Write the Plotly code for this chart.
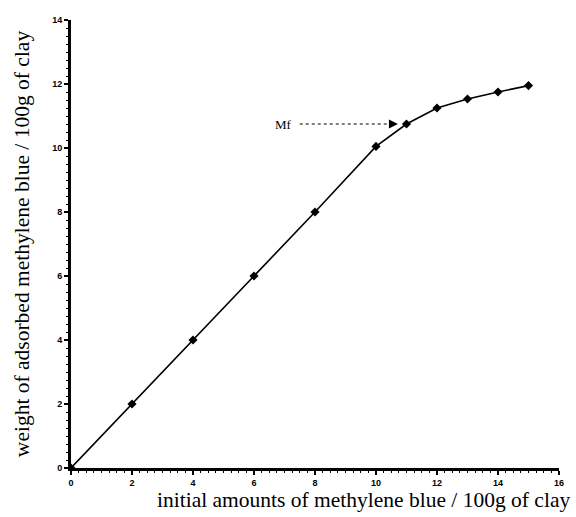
import plotly.graph_objects as go

x_initial = [0, 2, 4, 6, 8, 10, 11, 12, 13, 14, 15]
y_adsorbed = [0, 2, 4, 6, 8, 10.05, 10.75, 11.25, 11.53, 11.75, 11.95]

mf_label = "Mf"
mf_arrow_start = 7.5
mf_arrow_end = 10.72
mf_y = 10.75

fig = go.Figure()
fig.add_trace(go.Scatter(
    x=x_initial, y=y_adsorbed, mode="lines+markers",
    line=dict(color="black", width=1.6),
    marker=dict(symbol="diamond", size=7, color="black"),
    showlegend=False,
))
# dotted arrow line
fig.add_trace(go.Scatter(
    x=[mf_arrow_start, mf_arrow_end - 0.2], y=[mf_y, mf_y], mode="lines",
    line=dict(color="black", width=1.2, dash="dot"), showlegend=False,
))
fig.add_annotation(
    x=mf_arrow_end, y=mf_y, ax=mf_arrow_end - 0.25, ay=mf_y,
    xref="x", yref="y", axref="x", ayref="y",
    text="", showarrow=True, arrowhead=2, arrowsize=1.2, arrowwidth=1.5, arrowcolor="black",
)
fig.add_annotation(
    x=mf_arrow_start - 0.2, y=mf_y, xref="x", yref="y", text=mf_label,
    showarrow=False, xanchor="right", yanchor="middle",
    font=dict(family="Liberation Serif", size=13, color="black"),
)

fig.add_annotation(
    x=1.027, y=-0.072, xref="paper", yref="paper", xanchor="right", yanchor="middle",
    text="initial amounts of methylene blue / 100g of clay", showarrow=False,
    font=dict(family="Liberation Serif", size=21.5, color="black"),
)

tick_font = dict(family="Liberation Sans", size=9, color="black", weight="bold")
fig.update_xaxes(
    range=[0, 16], tickvals=list(range(0, 17, 2)), showline=True, linecolor="black", linewidth=3,
    ticks="outside", ticklen=4, tickwidth=2, tickcolor="black",
    minor=dict(dtick=0.25, ticks="outside", ticklen=2, tickcolor="black", tickwidth=1),
    showgrid=False, zeroline=False, tickfont=tick_font,
)
fig.update_yaxes(
    range=[0, 14], tickvals=list(range(0, 15, 2)), showline=True, linecolor="black", linewidth=3,
    ticks="outside", ticklen=4, tickwidth=2, tickcolor="black",
    minor=dict(dtick=0.25, ticks="outside", ticklen=2, tickcolor="black", tickwidth=1),
    showgrid=False, zeroline=False, tickfont=tick_font,
    title=dict(text="weight of adsorbed methylene blue / 100g of clay",
               font=dict(family="Liberation Serif", size=21.5, color="black"), standoff=17),
)
fig.update_layout(
    width=576, height=517, plot_bgcolor="white", paper_bgcolor="white",
    margin=dict(l=71, r=17, t=20, b=49),
)
fig.write_html("out.html")
